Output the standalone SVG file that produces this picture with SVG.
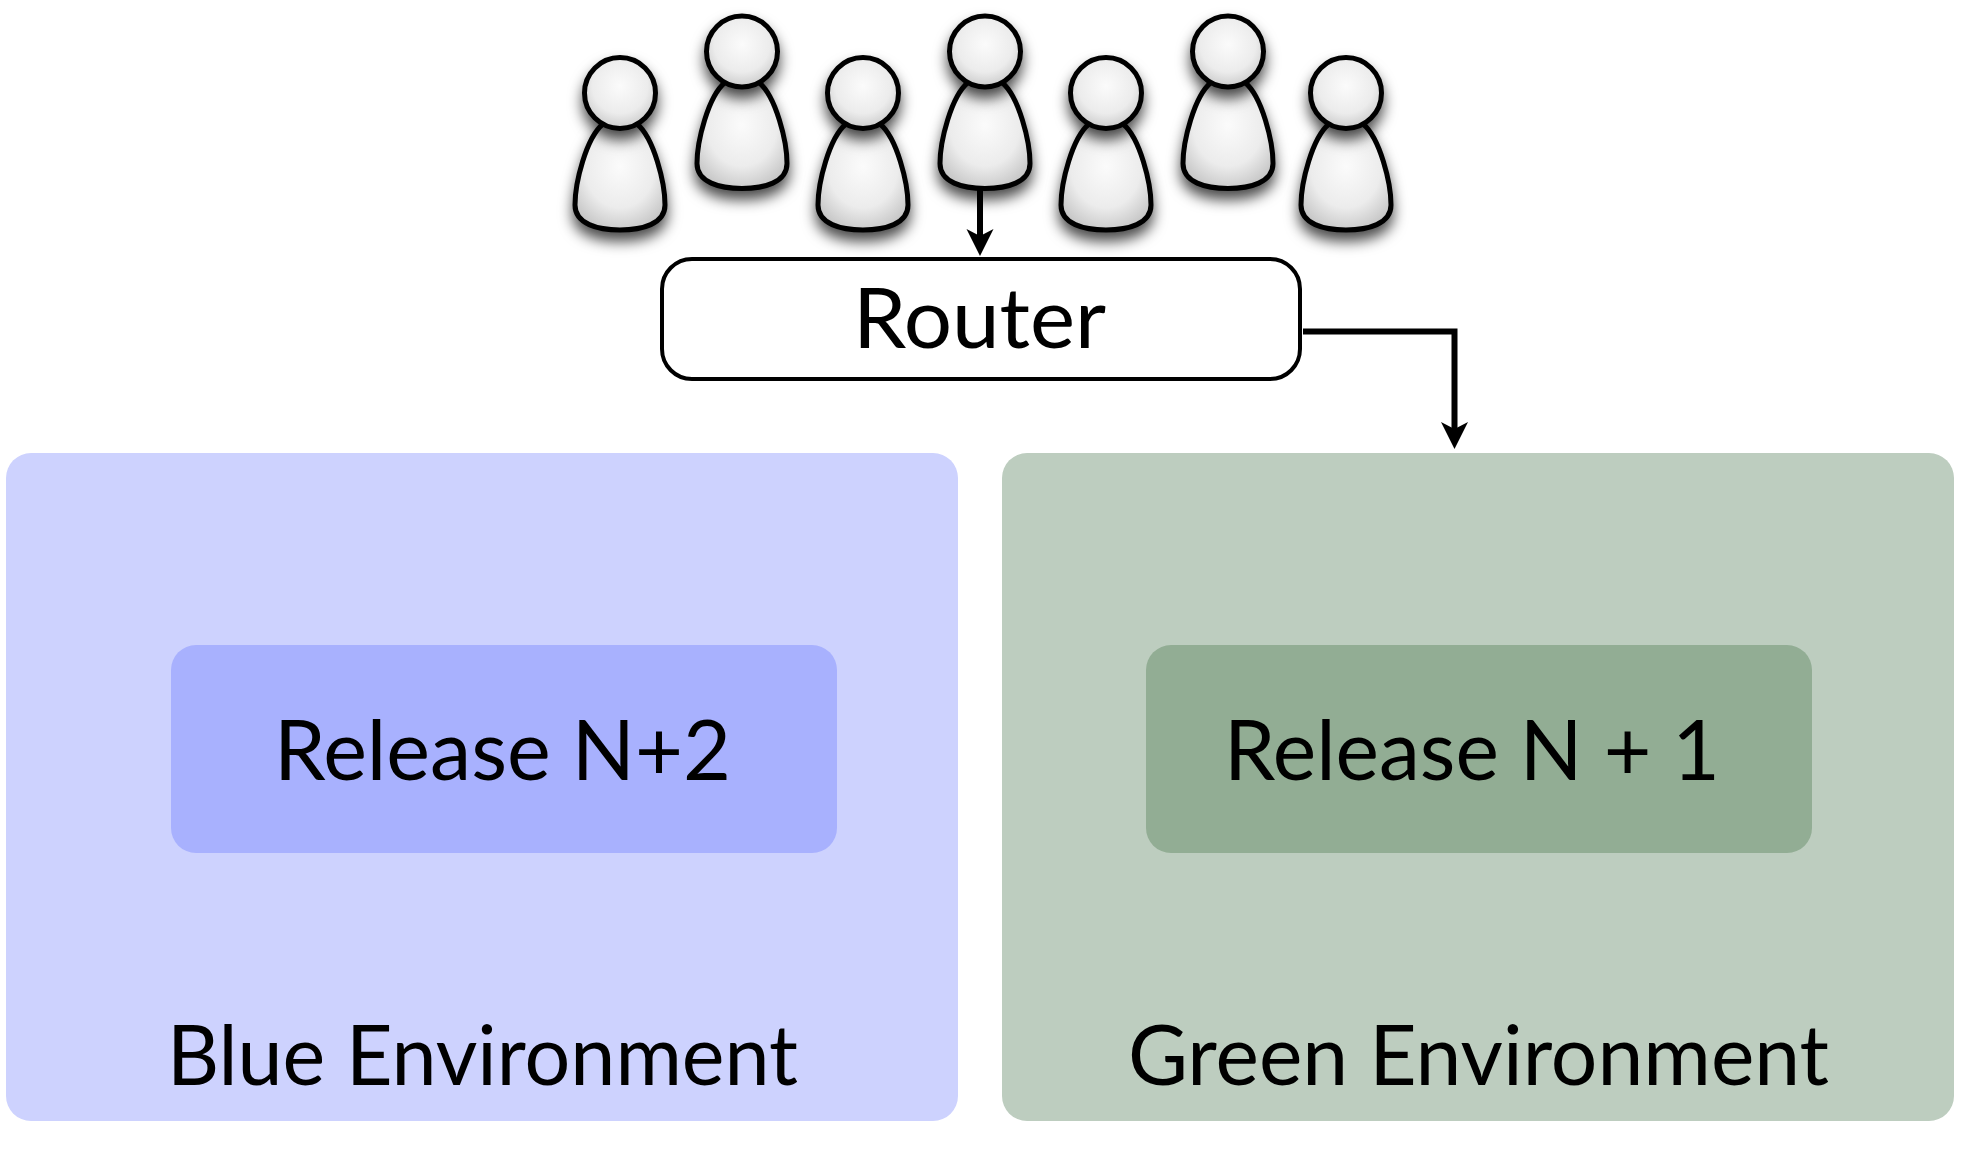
<svg xmlns="http://www.w3.org/2000/svg" width="1961" height="1153" viewBox="0 0 1961 1153">
<style>
.t{font-family:Lato,"Liberation Sans",sans-serif;font-size:84px;fill:#000}
.p{stroke:#000;stroke-width:5;fill:url(#g);filter:url(#s)}
.c{fill:none;stroke:#000;stroke-width:6}
</style>
<defs>
<radialGradient id="g" cx="0.5" cy="0.4" r="0.65"><stop offset="0" stop-color="#fbfbfb"/><stop offset="0.6" stop-color="#ececec"/><stop offset="1" stop-color="#c4c4c4"/></radialGradient>
<filter id="s" x="-30%" y="-30%" width="160%" height="170%"><feDropShadow dx="0" dy="9" stdDeviation="7" flood-color="#000" flood-opacity="0.7"/></filter>
<marker id="a" markerUnits="userSpaceOnUse" markerWidth="28" markerHeight="28" refX="20" refY="14" orient="auto" viewBox="0 0 28 28"><path d="M0 0.500 L27 14 L0 27.500 L7 14Z" fill="#000"/></marker>
<g id="person">
<path class="p" d="M-17 124 C-34 138 -45 183 -45 205 C-45 224 -22 230 0 230 C22 230 45 224 45 205 C45 183 34 138 17 124 Z"/>
<circle class="p" cx="0" cy="93" r="35.5"/>
</g>
</defs>
<g id="blue-env"><rect x="6" y="453" width="952" height="668" rx="25" fill="#cdd2fe"/><text class="t" x="167" y="1085" textLength="631" lengthAdjust="spacingAndGlyphs">Blue Environment</text></g>
<g id="green-env"><rect x="1002" y="453" width="952" height="668" rx="25" fill="#bdcdbf"/><text class="t" x="1128" y="1085" textLength="701" lengthAdjust="spacingAndGlyphs">Green Environment</text></g>
<g id="release-blue"><rect x="171" y="645" width="666" height="208" rx="25" fill="#a8b1fe"/><text class="t" x="274" y="780" textLength="457" lengthAdjust="spacingAndGlyphs">Release N+2</text></g>
<g id="release-green"><rect x="1146" y="645" width="666" height="208" rx="25" fill="#92ad94"/><text class="t" x="1224" y="780" textLength="496" lengthAdjust="spacingAndGlyphs">Release N + 1</text></g>
<g id="router"><rect x="662" y="259" width="638" height="120" rx="30" fill="#fff" stroke="#000" stroke-width="4"/><text class="t" x="853" y="348" textLength="253" lengthAdjust="spacingAndGlyphs">Router</text></g>
<g id="person1"><use href="#person" x="620"/></g>
<g id="person2"><use href="#person" x="742" y="-41.5"/></g>
<g id="person3"><use href="#person" x="863"/></g>
<g id="person4"><use href="#person" x="985" y="-41.5"/></g>
<g id="person5"><use href="#person" x="1106"/></g>
<g id="person6"><use href="#person" x="1228" y="-41.5"/></g>
<g id="person7"><use href="#person" x="1346"/></g>
<g id="connectors">
<path class="c" d="M980 190 V249" marker-end="url(#a)"/>
<path class="c" d="M1303 331.500 L1454.500 331.500 V442" marker-end="url(#a)"/>
</g>
</svg>
